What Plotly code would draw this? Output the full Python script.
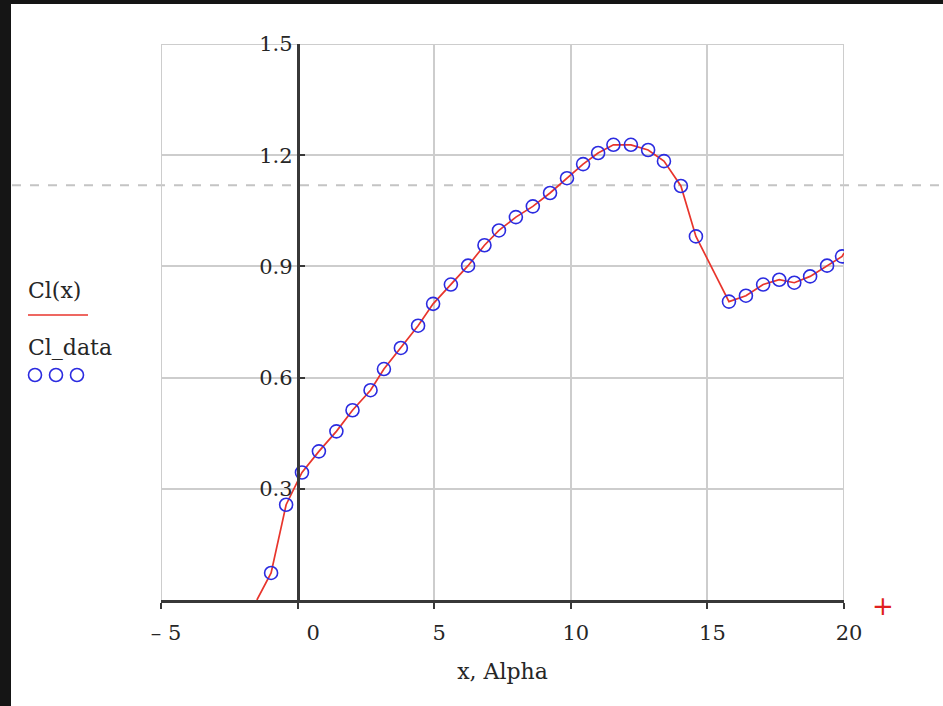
import plotly.graph_objects as go

# Measured lift coefficient vs angle of attack
alpha = [-0.97, -0.42, 0.16, 0.78, 1.42, 2.01, 2.67, 3.16, 3.78, 4.41,
         4.96, 5.61, 6.24, 6.84, 7.37, 7.99, 8.61, 9.24, 9.86, 10.45,
         11.0, 11.56, 12.2, 12.83, 13.41, 14.03, 14.58, 15.79, 16.41, 17.04,
         17.63, 18.18, 18.76, 19.38, 19.93]
cl_data = [0.073, 0.257, 0.344, 0.401, 0.455, 0.512, 0.566, 0.623, 0.680, 0.740,
           0.799, 0.851, 0.902, 0.957, 0.997, 1.033, 1.062, 1.098, 1.138, 1.176,
           1.206, 1.228, 1.228, 1.214, 1.184, 1.117, 0.981, 0.805, 0.821, 0.851,
           0.864, 0.856, 0.873, 0.902, 0.927]

# Interpolating function Cl(x), extended down to the x axis and out to x = 20
x_fit = [-1.49] + alpha + [20.0]
cl_fit = [0.0] + cl_data + [0.936]

x_ticks = [-5, 0, 5, 10, 15, 20]
x_tick_text = ["\u2013 5", "\u2002\u20020", "5", "10", "15", "20"]
y_ticks = [0.3, 0.6, 0.9, 1.2, 1.5]
y_tick_text = ["0.3", "0.6", "0.9", "1.2", "1.5"]
trace_level = 1.119  # horizontal trace cursor

X_RANGE = [-5, 20]
Y_RANGE = [0, 1.5]

W, H = 943, 706
L, R, T, B = 161, 99, 44, 106
PW, PH = W - L - R, H - T - B

FONT = "DejaVu Serif, Liberation Serif, serif"
TXT = "#262626"
GRID = "#cdcdcd"
AXIS = "#383838"
RED = "#e8352c"
BLUE = "#2b2be0"


def pxx(p):
    return (p - L) / PW


def pxy(p):
    return (H - B - p) / PH


fig = go.Figure()

fig.add_trace(go.Scatter(
    x=x_fit, y=cl_fit, mode="lines",
    line=dict(color=RED, width=1.7),
    name="Cl(x)", showlegend=False,
))
fig.add_trace(go.Scatter(
    x=alpha, y=cl_data, mode="markers",
    marker=dict(symbol="circle-open", size=13, color=BLUE,
                line=dict(width=1.6, color=BLUE)),
    name="Cl_data", showlegend=False,
))

y_axis_pos = (0 - X_RANGE[0]) / (X_RANGE[1] - X_RANGE[0])

fig.update_layout(
    width=W, height=H,
    margin=dict(l=L, r=R, t=T, b=B, pad=0),
    paper_bgcolor="white", plot_bgcolor="white",
    font=dict(family=FONT, size=21, color=TXT),
    xaxis=dict(
        range=X_RANGE, domain=[0, 1],
        tickvals=x_ticks, ticktext=x_tick_text,
        ticks="outside", ticklen=6, tickwidth=2, tickcolor=AXIS,
        ticklabelshift=5, ticklabelstandoff=6,
        showline=True, linecolor=AXIS, linewidth=2.5,
        showgrid=True, gridcolor=GRID, gridwidth=2,
        zeroline=False,
        title=dict(text="x, Alpha", standoff=20,
                   font=dict(family=FONT, size=22, color=TXT)),
        tickfont=dict(family=FONT, size=21, color=TXT),
    ),
    yaxis=dict(
        range=Y_RANGE, anchor="free", position=y_axis_pos,
        tickvals=y_ticks, ticktext=y_tick_text,
        ticks="inside", ticklen=6, tickwidth=2, tickcolor=AXIS,
        showline=True, linecolor=AXIS, linewidth=2.5,
        showgrid=True, gridcolor=GRID, gridwidth=2,
        zeroline=False,
        tickfont=dict(family=FONT, size=21, color=TXT),
    ),
)

shapes = []
# gridlines on the plot boundaries
for x0, x1, y0, y1 in [
    (X_RANGE[0], X_RANGE[0], Y_RANGE[0], Y_RANGE[1]),
    (X_RANGE[1], X_RANGE[1], Y_RANGE[0], Y_RANGE[1]),
    (X_RANGE[0], X_RANGE[1], Y_RANGE[1], Y_RANGE[1]),
]:
    shapes.append(dict(type="line", xref="x", yref="y", x0=x0, x1=x1, y0=y0, y1=y1,
                       line=dict(color=GRID, width=2), layer="below"))

# dashed trace cursor across the whole region
trace_paper = (trace_level - Y_RANGE[0]) / (Y_RANGE[1] - Y_RANGE[0])
shapes.append(dict(type="line", xref="paper", yref="paper",
                   x0=pxx(12), x1=pxx(W), y0=trace_paper, y1=trace_paper,
                   line=dict(color="#c4c4c4", width=2, dash="dash"), layer="below"))

# legend marks
shapes.append(dict(type="line", xref="paper", yref="paper",
                   x0=pxx(28), x1=pxx(88), y0=pxy(315), y1=pxy(315),
                   line=dict(color=RED, width=1.7)))
for cx in (35, 56, 77):
    shapes.append(dict(type="circle", xref="paper", yref="paper",
                       x0=pxx(cx - 6.5), x1=pxx(cx + 6.5),
                       y0=pxy(375 - 6.5), y1=pxy(375 + 6.5),
                       line=dict(color=BLUE, width=1.6)))

# dark frame at the left and top edges
shapes.append(dict(type="rect", xref="paper", yref="paper",
                   x0=pxx(0), x1=pxx(11), y0=pxy(H), y1=pxy(0),
                   fillcolor="#151515", line=dict(width=0)))
shapes.append(dict(type="rect", xref="paper", yref="paper",
                   x0=pxx(0), x1=pxx(W), y0=pxy(4), y1=pxy(0),
                   fillcolor="#151515", line=dict(width=0)))
fig.update_layout(shapes=shapes)

annotations = [
    dict(text="Cl(x)", xref="paper", yref="paper", x=pxx(26), y=pxy(290),
         xanchor="left", yanchor="middle", showarrow=False,
         font=dict(family=FONT, size=22, color=TXT)),
    dict(text="Cl_data", xref="paper", yref="paper", x=pxx(26), y=pxy(348),
         xanchor="left", yanchor="middle", showarrow=False,
         font=dict(family=FONT, size=22, color=TXT)),
    dict(text="+", xref="paper", yref="paper", x=pxx(883), y=pxy(606),
         xanchor="center", yanchor="middle", showarrow=False,
         font=dict(family="DejaVu Sans", size=26, color="#e02020")),
]
fig.update_layout(annotations=annotations)

fig.write_html("out.html")
